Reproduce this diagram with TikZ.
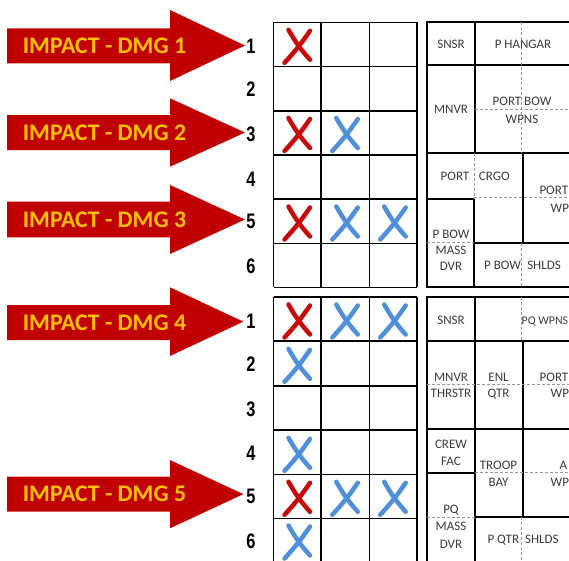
\documentclass[tikz,border=0pt]{standalone}
\usepackage{fontspec}
\setmainfont{Carlito}
\newfontfamily\numfont{Liberation Sans}
\definecolor{arrowred}{HTML}{C00000}
\definecolor{txtgold}{HTML}{FFC000}
\definecolor{xred}{HTML}{C80A0A}
\definecolor{xblue}{HTML}{4F8FDB}
\definecolor{cellgray}{HTML}{3C3C3C}
\definecolor{dashgray}{HTML}{9A9A9A}
\begin{document}
\begin{tikzpicture}[x=1pt,y=-1pt,
  dmgarrow/.style={fill=arrowred,draw=none},
  dmglabel/.style={inner sep=0pt,text=txtgold,font=\fontsize{23.8}{24}\selectfont\bfseries,text height=15.3pt,text depth=0pt},
  rownum/.style={inner sep=0pt,font=\numfont\fontsize{21}{21}\selectfont\bfseries,text height=15.2pt,text depth=0pt,xscale=0.78,transform shape},
  gridline/.style={draw=black,line width=1.6pt},
  tabline/.style={draw=black,line width=1.7pt},
  dashline/.style={draw=dashgray,line width=0.7pt,dash pattern=on 3pt off 2pt},
  celltxt/.style={inner sep=0pt,text=cellgray,font=\fontsize{13}{14}\selectfont,text height=8.4pt,text depth=0pt},
  xstroke/.style={line width=4.5pt,line cap=round}
]
\useasboundingbox (0,0) rectangle (569,560);
\fill[white] (0,0) rectangle (569,560);
\clip (0,0) rectangle (569,560);

% ---------- red block arrows with labels ----------
\foreach \n/\sta/\sba/\hua/\hla/\tipx in {1/28.3/63.3/10/81/245,2/115/150/98.3/166.7/245,3/201.7/237.3/185/254/245,4/305/340/287.3/356/243.3,5/476.7/511.7/460/528.3/243.3}{
  \fill[dmgarrow] (7,\sta) -- (170,\sta) -- (170,\hua) -- (\tipx,{(\hua+\hla)/2}) -- (170,\hla) -- (170,\sba) -- (7,\sba) -- cycle;
  \node[dmglabel] (lab\n) at (104.5,{(\sta+\sba)/2}) {IMPACT - DMG \n};
}

% ---------- row numbers ----------
\foreach \k/\yy in {1/45.8,2/89.2,3/134,4/179,5/220.8,6/265.8}{
  \node[rownum] (tn\k) at (251,\yy) {\k};
}
\foreach \k/\yy in {1/320.8,2/364,3/409,4/452.5,5/495.8,6/540.8}{
  \node[rownum] (bn\k) at (251,\yy) {\k};
}

% ---------- left grids ----------
\foreach \y in {22.3,66.5,110.7,154.9,199.1,243.3,287.3}{
  \draw[gridline] (273.5,\y) -- (416.7,\y);
}
\foreach \x in {273.5,321,369.3,416.7}{
  \draw[gridline] (\x,22.3) -- (\x,287.3);
}
\foreach \y in {296.7,341,385.7,430,474.3,518.3,562.6}{
  \draw[gridline] (273.5,\y) -- (416.7,\y);
}
\foreach \x in {273.5,321,369.3,416.7}{
  \draw[gridline] (\x,296.7) -- (\x,562.6);
}

% ---------- crosses ----------
\foreach \cx/\cy/\c in {297.5/45.8/xred,
  297.5/134/xred,345.3/134/xblue,
  297.5/222.5/xred,345.3/222.5/xblue,393.2/222.5/xblue,
  297.5/320.5/xred,345.3/320.5/xblue,393.2/320.5/xblue,
  297.5/364.8/xblue,
  297.5/453.8/xblue,
  297.5/497.8/xred,345.3/497.8/xblue,393.2/497.8/xblue,
  297.5/541.5/xblue}{
  \draw[xstroke,draw=\c] (\cx-9,\cy-16) to[bend right=6] (\cx+12.5,\cy+14);
  \draw[xstroke,draw=\c] (\cx+12.5,\cy-15) to[bend left=4] (\cx-13,\cy+17);
}

% ---------- top right table ----------
\draw[tabline] (575,22.3) -- (427.3,22.3) -- (427.3,286.7) -- (575,286.7);
\draw[tabline] (427.3,65) -- (575,65);
\draw[tabline] (475,22.3) -- (475,153.3);
\draw[tabline] (427.3,153.3) -- (575,153.3);
\draw[tabline] (522.7,153.3) -- (522.7,242.7);
\draw[tabline] (427.3,199.3) -- (474.3,199.3);
\draw[tabline] (474.3,199.3) -- (474.3,286.7);
\draw[tabline] (474.3,242.7) -- (575,242.7);
\draw[dashline] (521.7,22.3) -- (521.7,153.3);
\draw[dashline] (475,109) -- (575,109);
\draw[dashline] (474.3,153.3) -- (474.3,199.3);
\draw[dashline] (474.3,197.7) -- (575,197.7);
\draw[dashline] (427.3,242.3) -- (474.3,242.3);
\draw[dashline] (521.7,242.7) -- (521.7,286.7);

\node[celltxt] (t1) at (451,44) {SNSR};
\node[celltxt] (t2) at (523,44) {P HANGAR};
\node[celltxt] (t3) at (451,109) {MNVR};
\node[celltxt] (t4) at (522,101.7) {PORT BOW};
\node[celltxt] (t5) at (522,119) {WPNS};
\node[celltxt] (t6) at (455,176.7) {PORT};
\node[celltxt] (t7) at (494.3,176.7) {CRGO};
\node[celltxt,anchor=west] (t8) at (539.3,190.7) {PORT};
\node[celltxt,anchor=west] (t9) at (550.5,208) {WP};
\node[celltxt] (t10) at (451,234.3) {P BOW};
\node[celltxt] (t11) at (451,250.7) {MASS};
\node[celltxt] (t12) at (451,266.7) {DVR};
\node[celltxt] (t13) at (502.5,265) {P BOW};
\node[celltxt] (t14) at (544,265) {SHLDS};

% ---------- bottom right table ----------
\draw[tabline] (575,296.7) -- (427.3,296.7) -- (427.3,575);
\draw[tabline] (427.3,340.7) -- (575,340.7);
\draw[tabline] (475,296.7) -- (475,575);
\draw[tabline] (522.7,340.7) -- (522.7,517.3);
\draw[tabline] (427.3,429.3) -- (575,429.3);
\draw[tabline] (427.3,472.7) -- (475,472.7);
\draw[tabline] (475,517.3) -- (575,517.3);
\draw[dashline] (521.7,296.7) -- (521.7,340.7);
\draw[dashline] (427.3,384.3) -- (575,384.3);
\draw[dashline] (475,472.7) -- (575,472.7);
\draw[dashline] (427.3,517.3) -- (475,517.3);
\draw[dashline] (521.7,517.3) -- (521.7,575);

\node[celltxt] (b1) at (451,320) {SNSR};
\node[celltxt,anchor=west,font=\fontsize{11.8}{13}\selectfont] (b2) at (521.5,320) {PQ WPNS};
\node[celltxt] (b3) at (451,377.3) {MNVR};
\node[celltxt] (b4) at (451,393.3) {THRSTR};
\node[celltxt] (b5) at (498.5,377.3) {ENL};
\node[celltxt] (b6) at (498.5,393.3) {QTR};
\node[celltxt,anchor=west] (b7) at (539.5,377.3) {PORT};
\node[celltxt,anchor=west] (b8) at (550.5,393.3) {WP};
\node[celltxt] (b9) at (451,444) {CREW};
\node[celltxt] (b10) at (451,461) {FAC};
\node[celltxt] (b11) at (498.5,465) {TROOP};
\node[celltxt] (b12) at (498.5,482) {BAY};
\node[celltxt,anchor=west] (b13) at (559.5,465) {A};
\node[celltxt,anchor=west] (b14) at (550.5,482) {WP};
\node[celltxt] (b15) at (451,509.3) {PQ};
\node[celltxt] (b16) at (451,526.7) {MASS};
\node[celltxt] (b17) at (451,544) {DVR};
\node[celltxt] (b18) at (503.3,539.3) {P QTR};
\node[celltxt] (b19) at (541.8,539.3) {SHLDS};
\end{tikzpicture}
\end{document}
